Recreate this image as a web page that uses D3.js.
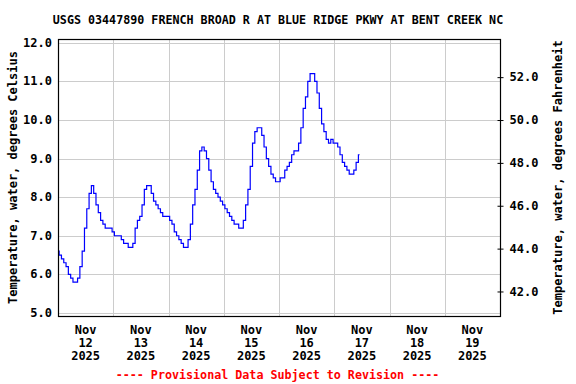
<!DOCTYPE html>
<html>
<head>
<meta charset="utf-8">
<script src="https://cdn.jsdelivr.net/npm/d3@7"></script>
<style>
  body { margin: 0; background: #fff; }
  text { font-family: "DejaVu Sans Mono", monospace; font-weight: bold; }
</style>
</head>
<body>
<svg id="svgChart" width="576" height="384"></svg>
<script>
/*
  Water temperature chart, USGS 03447890.
  Hourly readings, starting Nov 12 2025 00:00.
*/

var TITLE = "USGS 03447890 FRENCH BROAD R AT BLUE RIDGE PKWY AT BENT CREEK NC";
var START = new Date(2025, 10, 12, 0, 0);
var END = new Date(2025, 10, 20, 0, 0);

// temperature, degrees Celsius, one value per hour
var tempNov12 = [6.6, 6.5, 6.4, 6.3, 6.2, 6.0, 5.9, 5.8, 5.8, 5.9, 6.2, 6.6,
                 7.2, 7.7, 8.1, 8.3, 8.1, 7.8, 7.6, 7.4, 7.3, 7.2, 7.2, 7.2];
var tempNov13 = [7.1, 7.0, 7.0, 7.0, 6.9, 6.8, 6.8, 6.7, 6.7, 6.8, 7.2, 7.4,
                 7.5, 7.8, 8.2, 8.3, 8.3, 8.1, 7.9, 7.8, 7.7, 7.6, 7.5, 7.5];
var tempNov14 = [7.5, 7.4, 7.3, 7.1, 7.0, 6.9, 6.8, 6.7, 6.7, 6.9, 7.3, 7.8,
                 8.2, 8.7, 9.2, 9.3, 9.2, 9.0, 8.7, 8.4, 8.2, 8.1, 8.0, 7.9];
var tempNov15 = [7.8, 7.7, 7.6, 7.5, 7.4, 7.3, 7.3, 7.2, 7.2, 7.4, 7.8, 8.2,
                 8.8, 9.4, 9.7, 9.8, 9.8, 9.6, 9.3, 9.0, 8.8, 8.6, 8.5, 8.4];
var tempNov16 = [8.4, 8.5, 8.5, 8.7, 8.8, 8.9, 9.1, 9.2, 9.2, 9.4, 9.8, 10.3,
                 10.6, 11.0, 11.2, 11.2, 11.0, 10.7, 10.3, 9.9, 9.7, 9.5, 9.4, 9.5];
var tempNov17 = [9.4, 9.4, 9.3, 9.1, 8.9, 8.8, 8.7, 8.6, 8.6, 8.7, 8.9, 9.1];

var celsiusTicks = [5, 6, 7, 8, 9, 10, 11, 12];
var fahrenheitTicks = [42, 44, 46, 48, 50, 52];
var dayLabels = ["12", "13", "14", "15", "16", "17", "18", "19"];

function makeChart() {
  /*   Draws the whole chart into #svgChart.
       Args: none
  */

  var svg = d3.select("#svgChart");
  var margin = {top: 39, right: 76, bottom: 68, left: 58};
  var width = +svg.attr("width") - margin.left - margin.right;
  var height = +svg.attr("height") - margin.top - margin.bottom;

  var temps = tempNov12.concat(tempNov13, tempNov14, tempNov15, tempNov16, tempNov17);
  var data = temps.map(function(v, i) {
    return {tijd: d3.timeHour.offset(START, i), waarde: v};
  });

  // scales
  var x = d3.scaleTime().domain([START, END]).range([0, width]);
  var y = d3.scaleLinear().domain([4.92, 12.1]).range([height, 0]);
  var yF = d3.scaleLinear()
    .domain([4.92 * 1.8 + 32, 12.1 * 1.8 + 32]).range([height, 0]);

  var g = svg.append("g")
    .attr("transform", "translate(" + margin.left + "," + margin.top + ")");

  // gridlines
  g.selectAll(".hgrid").data(celsiusTicks).enter().append("line")
    .attr("x1", 0).attr("x2", width)
    .attr("y1", function(d) { return Math.round(y(d)) + 0.5; })
    .attr("y2", function(d) { return Math.round(y(d)) + 0.5; })
    .attr("stroke", "#cccccc");

  g.selectAll(".vgrid").data(d3.timeDay.range(d3.timeDay.offset(START, 1), END))
    .enter().append("line")
    .attr("x1", function(d) { return Math.round(x(d)) + 0.5; })
    .attr("x2", function(d) { return Math.round(x(d)) + 0.5; })
    .attr("y1", 0).attr("y2", height)
    .attr("stroke", "#cccccc");

  // the temperature line, stepped like the gauge readings
  var valueline = d3.line()
    .curve(d3.curveStep)
    .x(function(d) { return x(d.tijd); })
    .y(function(d) { return y(d.waarde); });

  g.append("path")
    .attr("fill", "none")
    .attr("stroke", "#0000ff")
    .attr("stroke-width", 1.2)
    .attr("d", valueline(data));

  // frame
  g.append("rect")
    .attr("x", 0.5).attr("y", 0.5)
    .attr("width", width).attr("height", height)
    .attr("fill", "none")
    .attr("stroke", "#000")
    .attr("stroke-width", 1.2);

  // left axis labels
  g.selectAll(".ylab").data(celsiusTicks).enter().append("text")
    .attr("x", -6)
    .attr("y", function(d) { return y(d) + 4; })
    .attr("text-anchor", "end")
    .style("font-size", "12px")
    .text(function(d) { return d.toFixed(1); });

  // right axis, fahrenheit
  var yAxisRight = d3.axisRight(yF).tickValues(fahrenheitTicks)
    .tickSize(3).tickPadding(6)
    .tickFormat(function(d) { return d.toFixed(1); });

  var gRight = g.append("g")
    .attr("transform", "translate(" + (width + 0.5) + ",0)")
    .call(yAxisRight);
  gRight.select(".domain").remove();
  gRight.selectAll(".tick line").attr("x1", -3).attr("stroke", "#000");
  gRight.selectAll("text")
    .style("font-family", "DejaVu Sans Mono")
    .style("font-weight", "bold")
    .style("font-size", "12px")
    .attr("fill", "#000");

  // x labels at noon of every day
  var noons = dayLabels.map(function(d, i) {
    return d3.timeHour.offset(START, i * 24 + 12);
  });
  var xlab = g.selectAll(".xlab").data(noons).enter().append("text")
    .attr("text-anchor", "middle")
    .style("font-size", "12px");
  xlab.append("tspan")
    .attr("x", function(d) { return x(d); })
    .attr("y", height + 18)
    .text("Nov");
  xlab.append("tspan")
    .attr("x", function(d) { return x(d); })
    .attr("y", height + 31)
    .text(function(d, i) { return dayLabels[i]; });
  xlab.append("tspan")
    .attr("x", function(d) { return x(d); })
    .attr("y", height + 44)
    .text("2025");

  // axis titles
  g.append("text")
    .attr("transform", "rotate(-90)")
    .attr("x", -height / 2)
    .attr("y", -margin.left + 17)
    .attr("text-anchor", "middle")
    .style("font-size", "12px")
    .text("Temperature, water, degrees Celsius");

  g.append("text")
    .attr("transform", "rotate(-90)")
    .attr("x", -height / 2)
    .attr("y", width + 62)
    .attr("text-anchor", "middle")
    .style("font-size", "12px")
    .text("Temperature, water, degrees Fahrenheit");

  // title
  svg.append("text")
    .attr("x", 278)
    .attr("y", 24)
    .attr("text-anchor", "middle")
    .style("font-size", "11.7px")
    .text(TITLE);

  // provisional note
  svg.append("text")
    .attr("x", 277.5)
    .attr("y", 379)
    .attr("text-anchor", "middle")
    .attr("fill", "#ff0000")
    .style("font-size", "11.7px")
    .text("---- Provisional Data Subject to Revision ----");
}

makeChart();
</script>
</body>
</html>
